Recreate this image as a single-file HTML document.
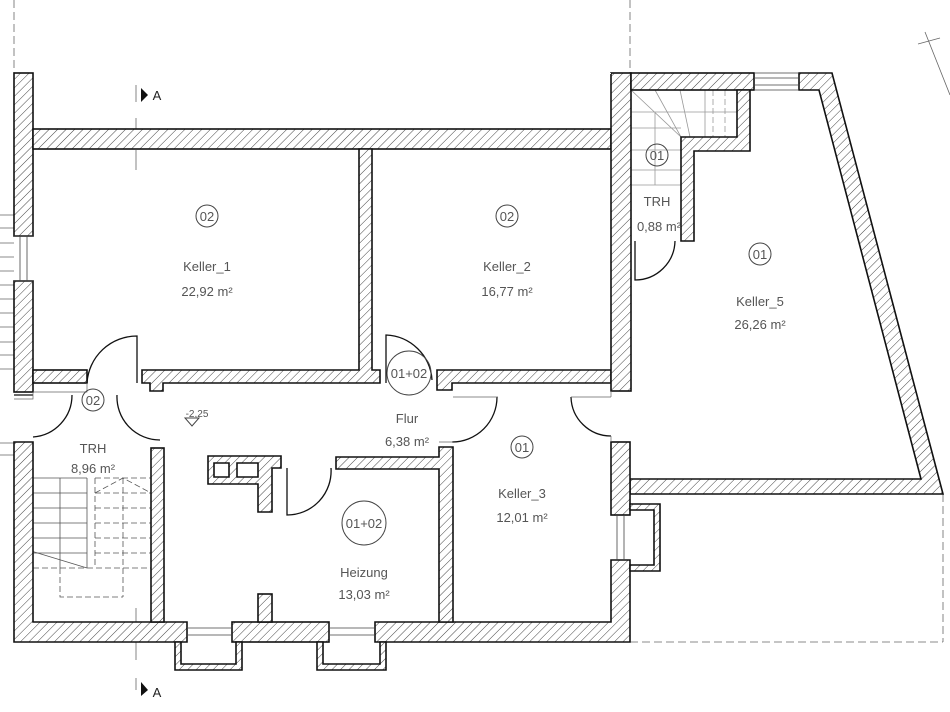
<!DOCTYPE html>
<html><head><meta charset="utf-8"><style>
html,body{margin:0;padding:0;background:#fff;}
svg{display:block;}
text{font-family:"Liberation Sans",sans-serif;fill:#555;font-size:13px;text-anchor:middle;}
</style></head><body>
<svg width="950" height="712" viewBox="0 0 950 712" xmlns="http://www.w3.org/2000/svg">
<defs>
<pattern id="h" patternUnits="userSpaceOnUse" width="6" height="6" patternTransform="rotate(45)">
<rect width="6" height="6" fill="#fff"/>
<line x1="0" y1="0" x2="0" y2="6" stroke="#444" stroke-width="1"/>
</pattern>
</defs>
<g stroke="#666" stroke-width="0.8" fill="none">
<!-- dashed guide lines -->
<line x1="14" y1="0" x2="14" y2="73" stroke-dasharray="8,4"/>
<line x1="630" y1="0" x2="630" y2="73" stroke-dasharray="8,4"/>
<line x1="136" y1="85" x2="136" y2="102"/>
<line x1="136" y1="118" x2="136" y2="130"/>
<line x1="136" y1="150" x2="136" y2="170"/>
<line x1="136" y1="608" x2="136" y2="660"/>
<line x1="136" y1="678" x2="136" y2="690"/>
<line x1="630" y1="642" x2="943" y2="642" stroke-dasharray="8,4"/>
<line x1="943" y1="494" x2="943" y2="642" stroke-dasharray="8,4"/>
<!-- north arrow -->
<line x1="925" y1="32" x2="950" y2="95"/>
<line x1="918" y1="44" x2="940" y2="38"/>
<!-- exterior stair lines left -->
<path d="M0,215H14M0,228H14M0,243H14M0,257H14M0,271H14M0,285H14M0,299H14M0,313H14M0,327H14M0,342H14M0,355H14M0,369H14M0,443H14M0,455H14"/>
</g>
<polygon points="141,88 141,102 148,95" fill="#111"/>
<text x="157" y="100" style="text-anchor:middle;fill:#222">A</text>
<polygon points="141,682 141,696 148,690" fill="#111"/>
<text x="157" y="697" style="fill:#222">A</text>

<!-- stairs TRH left -->
<g stroke="#555" stroke-width="0.8" fill="none">
<path d="M33,493H87M33,508H87M33,523H87M33,538H87M33,553H87M60,478V568M87,478V568M33,478H87"/>
<line x1="31" y1="551" x2="87" y2="568"/>
<g stroke-dasharray="6,3">
<path d="M95,478H151M95,493H151M95,508H151M95,523H151M95,538H151M95,553H151M33,568H151M95,478V568M123,478V597M60,568V597H123"/>
<path d="M95,493L123,478L151,493"/>
</g>
</g>
<!-- stairs TRH right -->
<g stroke="#999" stroke-width="0.8" fill="none">
<path d="M631,112H681M631,128H681M631,150H681M631,170H681M631,185H681M655,112V185M655,112H737M631,90L681,137M655,90L681,137M680,90L690,137M705,90L705,137"/>
<path d="M713,90V137M725,90V137" stroke-dasharray="6,3"/>
</g>

<!-- walls -->
<g fill="url(#h)" stroke="#111" stroke-width="1.6">
<rect x="14" y="73" width="19" height="163"/>
<rect x="14" y="281" width="19" height="111"/>
<rect x="33" y="129" width="578" height="20"/>
<polygon points="142,370 359,370 359,149 372,149 372,370 380,370 380,383 163,383 163,391 150,391 150,383 142,383"/>
<rect x="33" y="370" width="54" height="13"/>
<polygon points="437,370 611,370 611,383 452,383 452,390 437,390"/>
<rect x="611" y="73" width="20" height="318"/>
<rect x="631" y="73" width="123" height="17"/>
<polygon points="737,90 750,90 750,151 694,151 694,241 681,241 681,137 737,137"/>
<polygon points="799,73 832,73 943,494 630,494 630,479 921,479 819,90 799,90"/>
<rect x="611" y="442" width="19" height="73"/>
<polygon points="611,560 630,560 630,642 375,642 375,622 611,622"/>
<polygon points="14,442 33,442 33,622 187,622 187,642 14,642"/>
<rect x="232" y="622" width="97" height="20"/>
<path d="M175,642V670H242V642H236V664H181V642Z"/>
<path d="M317,642V670H386V642H380V664H323V642Z"/>
<path d="M630,504H660V571H630V565H654V510H630Z"/>
<rect x="151" y="448" width="13" height="174"/>
<polygon points="336,457 439,457 439,447 453,447 453,622 439,622 439,469 336,469"/>
<path d="M208,456H281V468H272V512H258V484H208Z M214,463V477H229V463Z M237,463V477H258V463Z" fill-rule="evenodd"/>
<rect x="258" y="594" width="14" height="28"/>
<rect x="610" y="73" width="1" height="1" stroke="none"/>
</g>

<!-- windows -->
<g stroke="#444" stroke-width="0.8" fill="none">
<path d="M20,236V281M27,236V281M14,236H33M14,281H33"/>
<path d="M187,628H232M187,635H232M329,628H375M329,635H375"/>
<path d="M754,78H799M754,85H799M754,73H799M754,90H799"/>
<path d="M617,515V560M624,515V560"/>
</g>

<!-- doors -->
<g stroke="#111" stroke-width="1.3" fill="none">
<path d="M33,395H14M33,437A42,42 0 0 0 72,395"/>
<path d="M117,395A43,43 0 0 0 160,440"/>
<path d="M137,383V336A50,50 0 0 0 87,383" />
<path d="M386,383V335A48,48 0 0 1 432,380"/>
<path d="M497,397A45,45 0 0 1 452,442"/>
<path d="M571,397A40,40 0 0 0 611,436"/>
<path d="M635,241V280A40,40 0 0 0 675,241"/>
<path d="M287,468V515A44,44 0 0 0 331,468"/>
</g>
<g stroke="#666" stroke-width="0.7" fill="none">
<path d="M33,392V399H14M87,383V392H33M453,397H498M571,397H611M611,391V397M611,436V442M439,442H453"/>
</g>

<!-- tags -->
<g stroke="#444" stroke-width="1" fill="none">
<circle cx="207" cy="216" r="11"/>
<circle cx="507" cy="216" r="11"/>
<circle cx="657" cy="155" r="11"/>
<circle cx="760" cy="254" r="11"/>
<circle cx="93" cy="400" r="11"/>
<circle cx="409" cy="373" r="22"/>
<circle cx="522" cy="447" r="11"/>
<circle cx="364" cy="523" r="22"/>
<path d="M185,418H199L192,426Z"/>
</g>
<text x="207" y="221">02</text>
<text x="207" y="271">Keller_1</text>
<text x="207" y="296">22,92 m²</text>
<text x="507" y="221">02</text>
<text x="507" y="271">Keller_2</text>
<text x="507" y="296">16,77 m²</text>
<text x="657" y="160">01</text>
<text x="657" y="206">TRH</text>
<text x="659" y="231">0,88 m²</text>
<text x="760" y="259">01</text>
<text x="760" y="306">Keller_5</text>
<text x="760" y="329">26,26 m²</text>
<text x="93" y="405">02</text>
<text x="93" y="453">TRH</text>
<text x="93" y="473">8,96 m²</text>
<text x="409" y="378">01+02</text>
<text x="407" y="423">Flur</text>
<text x="407" y="446">6,38 m²</text>
<text x="522" y="452">01</text>
<text x="522" y="498">Keller_3</text>
<text x="522" y="522">12,01 m²</text>
<text x="364" y="528">01+02</text>
<text x="364" y="577">Heizung</text>
<text x="364" y="599">13,03 m²</text>
<text x="197" y="417" style="font-size:10px">-2,25</text>
</svg>
</body></html>
